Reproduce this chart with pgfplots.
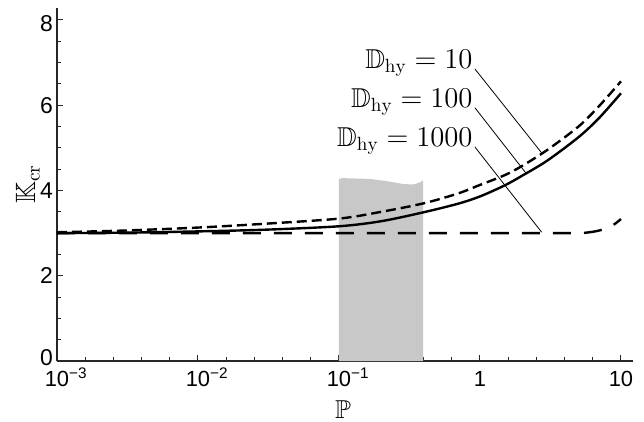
\documentclass[border=0pt]{standalone}
\usepackage{fontspec}
\newfontfamily\tickfont{Liberation Sans}
\usepackage{amssymb}
\usepackage{pgfplots}
\pgfplotsset{compat=1.18}
\begin{document}
\begin{tikzpicture}
\begin{axis}[
  at={(0,0)}, anchor=south west,
  scale only axis, width=288bp, height=176.5bp,
  xmode=log, xmin=0.001, xmax=12.17, ymin=0, ymax=8.28,
  axis lines=left, axis line style={black!85, line width=0.6bp, -},
  tick align=inside, major tick length=3bp, minor tick length=1.8bp,
  tick style={black!85, line width=0.5bp},
  xtick={0.001,0.01,0.1,1,10},
  xticklabels={10\rlap{\textsuperscript{−3}},10\rlap{\textsuperscript{−2}},10\rlap{\textsuperscript{−1}},1,10},
  minor xtick={0.001585,0.002512,0.003981,0.00631,0.01585,0.02512,0.03981,0.0631,0.1585,0.2512,0.3981,0.631,1.585,2.512,3.981,6.31},
  ytick={0,2,4,6,8}, yticklabels={\raisebox{2bp}[8.2bp][0pt]{0},2,4,6,\raisebox{-1.5bp}[8.2bp][0pt]{8}},
  minor ytick={0.5,1,1.5,2.5,3,3.5,4.5,5,5.5,6.5,7,7.5},
  xticklabel style={font=\tickfont\fontsize{11}{13}\selectfont, inner sep=0pt, anchor=base, yshift=-12.85bp},
  yticklabel style={font=\tickfont\fontsize{11.5}{13}\selectfont, inner sep=0pt, anchor=east, xshift=-1.85bp},
  xlabel={$\mathbb{P}$}, ylabel={$\mathbb{K}_{\mathrm{cr}}$},
  xlabel style={font=\fontsize{13}{15}\selectfont, at={(axis description cs:0.4965,-0.139)}, anchor=center},
  ylabel style={font=\fontsize{14}{16}\selectfont, at={(axis description cs:-0.0503,0.501)}, anchor=center},
  clip=false,
]
\addplot[fill={rgb,255:red,200;green,200;blue,200}, draw=none] coordinates {
  (0.1,0) (0.1,4.27) (0.105,4.29) (0.166,4.27) (0.218,4.22) (0.286,4.15) (0.336,4.14) (0.375,4.19) (0.396,4.24) (0.396,0)} -- cycle;
% D_hy = 10
\addplot[black, line width=1.2bp, dash pattern=on 5bp off 2.5bp, smooth] coordinates {
  (0.001,3.02) (0.003,3.06) (0.01,3.13) (0.03,3.22) (0.1,3.34) (0.2,3.50) (0.4,3.70) (0.7,3.93) (1,4.13) (1.5,4.36) (2,4.58) (3,4.95) (5,5.50) (7,5.98) (10,6.56)};
% D_hy = 100
\addplot[black, line width=1.2bp, smooth] coordinates {
  (0.001,3.0) (0.003,3.01) (0.01,3.04) (0.03,3.08) (0.1,3.16) (0.2,3.28) (0.4,3.49) (0.7,3.69) (1,3.86) (1.5,4.12) (2,4.35) (3,4.70) (5,5.25) (7,5.70) (10,6.28)};
% D_hy = 1000
\addplot[black, line width=1.2bp, dash pattern=on 9bp off 6.5bp, smooth] coordinates {
  (0.001,3.0) (0.01,3.0) (0.1,3.0) (1,3.0) (3,3.0) (5,3.0) (6,3.02) (7,3.06) (8,3.12) (9,3.21) (10,3.33)};
\node[anchor=base east, inner sep=0pt, font=\fontsize{13.7}{15}\selectfont] at (axis cs:0.892,6.87) {$\mathbb{D}_{\mathrm{hy}} = 10$};
\node[anchor=base east, inner sep=0pt, font=\fontsize{13.7}{15}\selectfont] at (axis cs:0.892,5.955) {$\mathbb{D}_{\mathrm{hy}} = 100$};
\node[anchor=base east, inner sep=0pt, font=\fontsize{13.7}{15}\selectfont] at (axis cs:0.892,5.03) {$\mathbb{D}_{\mathrm{hy}} = 1000$};
\draw[line width=0.4bp] (axis cs:0.921,6.85) -- (axis cs:2.74,4.88);
\draw[line width=0.4bp] (axis cs:0.921,5.94) -- (axis cs:2.14,4.39);
\draw[line width=0.4bp] (axis cs:0.921,5.02) -- (axis cs:2.74,3.02);
\end{axis}
\pgfresetboundingbox
\path (-28.5bp,-30.5bp) rectangle (293.5bp,180.5bp);
\end{tikzpicture}
\end{document}
